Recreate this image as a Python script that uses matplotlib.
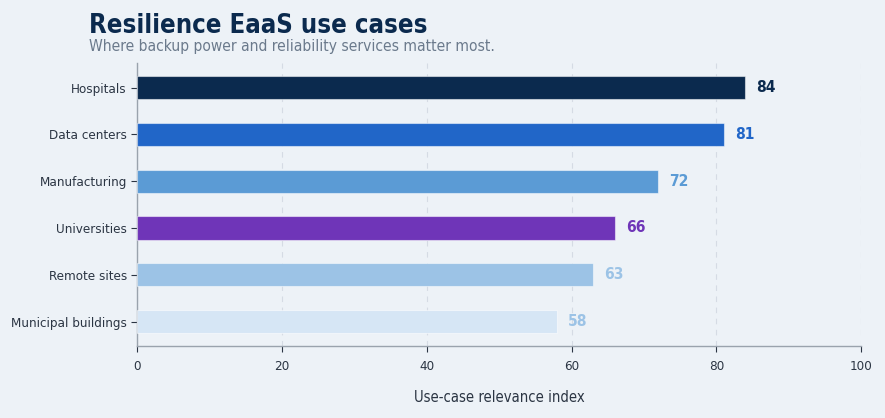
import matplotlib.pyplot as plt
from matplotlib import font_manager

kategorie = ["Hospitals", "Data centers", "Manufacturing", "Universities",
             "Remote sites", "Municipal buildings"]
wartosci = [84, 81, 72, 66, 63, 58]
kolory = ["#0b2a4e", "#2166c8", "#5b9bd5", "#6f35b8", "#9cc3e6", "#d6e6f5"]
kolory_etykiet = ["#0b2a4e", "#2166c8", "#5b9bd5", "#6f35b8", "#9cc3e6", "#9cc3e6"]
ticki_x = [0, 20, 40, 60, 80, 100]

# DejaVu Sans Condensed, jesli jest zainstalowany
jest_condensed = any(f.name == "DejaVu Sans" and f.stretch == "condensed"
                     for f in font_manager.fontManager.ttflist)
plt.rcParams["font.family"] = ["DejaVu Sans"]
if jest_condensed:
    plt.rcParams["font.stretch"] = "condensed"
    skala = 1.12
else:
    skala = 1.0

tlo = "#edf2f7"
fig = plt.figure(figsize=(8.85, 4.18), dpi=100, facecolor=tlo)
ax = fig.add_axes([0.155, 0.172, 0.818, 0.677], facecolor=tlo)

y = list(range(len(kategorie)))[::-1]
ax.barh(y, wartosci, height=0.5, color=kolory, edgecolor=(1, 1, 1, 0.5),
        linewidth=0.8, zorder=3)

for yi, v, k in zip(y, wartosci, kolory_etykiet):
    ax.annotate(str(v), (v, yi), xytext=(8, 0), textcoords="offset points",
                va="center", ha="left", fontsize=10 * skala,
                fontweight="bold", color=k, zorder=4)

ax.set_yticks(y)
ax.set_yticklabels(kategorie)
ax.set_xlim(0, 100)
ax.set_xticks(ticki_x)
ax.tick_params(axis="both", labelsize=8.6 * skala, colors="#2b3543",
               length=4, width=0.8)
ax.tick_params(axis="x", pad=6)
ax.xaxis.grid(True, linestyle=(0, (5, 5)), color="#d5dbe4", linewidth=0.8,
              zorder=0)
ax.set_axisbelow(True)

for s in ["top", "right"]:
    ax.spines[s].set_visible(False)
for s in ["left", "bottom"]:
    ax.spines[s].set_color("#9aa3ad")
    ax.spines[s].set_linewidth(1.0)

ax.set_xlabel("Use-case relevance index", fontsize=9.5 * skala,
              color="#2b3543", labelpad=12)

fig.text(0.1006, 0.922, "Resilience EaaS use cases", fontsize=16.5 * skala,
         fontweight="bold", color="#0b2a4e", va="baseline", ha="left")
fig.text(0.1006, 0.877, "Where backup power and reliability services matter most.",
         fontsize=10 * skala, color="#6b7a8c", va="baseline", ha="left")

fig.savefig("out.png", dpi=100, facecolor=tlo)
